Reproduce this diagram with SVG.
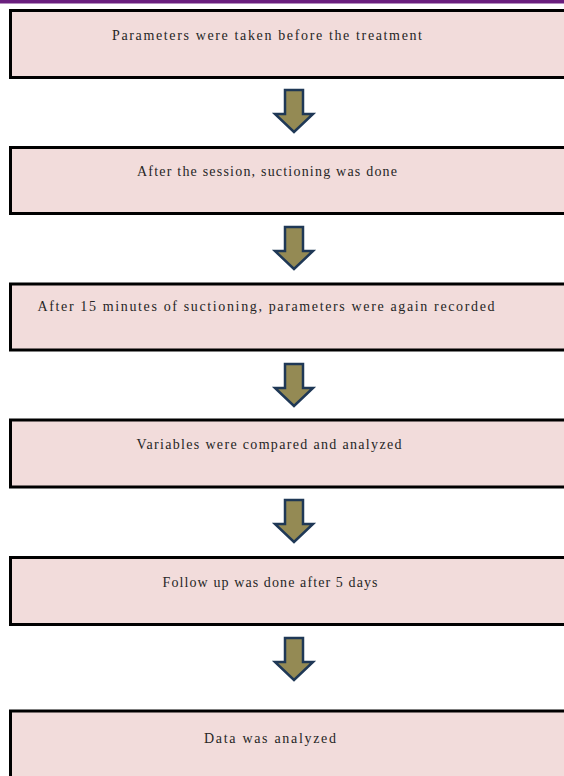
<svg xmlns="http://www.w3.org/2000/svg" width="564" height="776" viewBox="0 0 564 776">
<style>
.box{fill:#f2dcdb;stroke:#000;stroke-width:3}
.lbl{font-family:'Liberation Serif','Times New Roman','DejaVu Serif',serif;font-size:14px;fill:#262626;text-anchor:middle}
.arr{fill:#948a54;stroke:#1f3856;stroke-width:2.5;stroke-linejoin:miter}
</style>
<defs>
<path id="down" d="M285,0 H303 V24 H313 L294,42 L275,24 H285 Z"/>
</defs>
<rect x="0" y="0" width="564" height="776" fill="#fff"/>
<rect x="0" y="0" width="564" height="3.5" fill="#6a1f7e"/>
<g id="n1"><rect class="box" x="10.5" y="10.5" width="560" height="67"/><text class="lbl" x="267" y="40" textLength="310" lengthAdjust="spacing">Parameters were taken before the treatment</text></g>
<g id="n2"><rect class="box" x="10.5" y="147.5" width="560" height="66"/><text class="lbl" x="267" y="176" textLength="260" lengthAdjust="spacing">After the session, suctioning was done</text></g>
<g id="n3"><rect class="box" x="10.5" y="284" width="560" height="66"/><text class="lbl" x="266" y="311" textLength="457" lengthAdjust="spacing">After 15 minutes of suctioning, parameters were again recorded</text></g>
<g id="n4"><rect class="box" x="10.5" y="420" width="560" height="67"/><text class="lbl" x="269" y="449" textLength="265" lengthAdjust="spacing">Variables were compared and analyzed</text></g>
<g id="n5"><rect class="box" x="10.5" y="557.5" width="560" height="67"/><text class="lbl" x="270" y="587" textLength="215" lengthAdjust="spacing">Follow up was done after 5 days</text></g>
<g id="n6"><rect class="box" x="10.5" y="711" width="560" height="80"/><text class="lbl" x="270" y="743" textLength="132" lengthAdjust="spacing">Data was analyzed</text></g>
<g id="connectors">
<use href="#down" class="arr" transform="translate(0,90)"/>
<use href="#down" class="arr" transform="translate(0,227)"/>
<use href="#down" class="arr" transform="translate(0,364)"/>
<use href="#down" class="arr" transform="translate(0,500)"/>
<use href="#down" class="arr" transform="translate(0,638)"/>
</g>
</svg>
